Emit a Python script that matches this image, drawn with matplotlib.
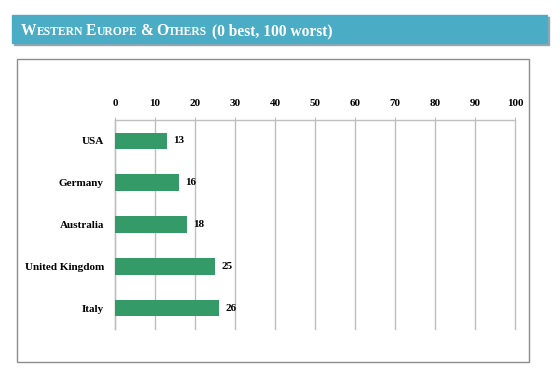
import matplotlib
matplotlib.use('Agg')
import matplotlib.pyplot as plt
from matplotlib.patches import Rectangle

countries = ['USA', 'Germany', 'Australia', 'United Kingdom', 'Italy']
scores = [13, 16, 18, 25, 26]
ticks = [0, 10, 20, 30, 40, 50, 60, 70, 80, 90, 100]

W, H = 560, 375
BANNER = '#4bacc6'
GREEN = '#349a68'
GRID = '#bfbfbf'
FONT = 'Liberation Serif'

plt.rcParams['font.family'] = FONT
plt.rcParams['font.weight'] = 'bold'

fig = plt.figure(figsize=(W / 100, H / 100), dpi=100)


def px(x, y):
    return x / W, 1 - y / H


# title banner with its shadow
fig.patches.append(Rectangle(px(14, 45), 535 / W, 28 / H, transform=fig.transFigure,
                             color='#9aa6ac', zorder=0))
fig.patches.append(Rectangle(px(12, 43), 535 / W, 28 / H, transform=fig.transFigure,
                             color=BANNER, zorder=1))
# chart frame
fig.patches.append(Rectangle(px(17, 362), 512 / W, 303 / H, transform=fig.transFigure,
                             fill=False, edgecolor='#8c8c8c', lw=1.0, zorder=1))

# small caps title built piece by piece
pieces = [('W', 11.2, 0), ('ESTERN', 8.4, 3), ('E', 11.2, 0), ('UROPE', 8.4, 3),
          ('&', 11.2, 3), ('O', 11.2, 0), ('THERS', 8.4, 5), ('(0 best, 100 worst)', 11.2, 0)]
renderer = fig.canvas.get_renderer()
x = 21
for s, size, gap in pieces:
    t = fig.text(x / W, 1 - 35 / H, s, fontsize=size, color='white', fontweight='bold',
                 va='baseline', ha='left', zorder=3)
    bb = t.get_window_extent(renderer)
    x += bb.width + gap

ax = fig.add_axes([115 / W, 1 - 329 / H, 400 / W, 209 / H])
ypos = range(len(countries))
ax.barh(ypos, scores, height=0.4, color=GREEN, zorder=3)
for y, v in zip(ypos, scores):
    ax.text(v + 1.5, y, str(v), va='center', ha='left', fontsize=8, fontweight='bold')

ax.set_xlim(0, 100)
ax.set_ylim(len(countries) - 0.5, -0.5)
ax.set_xticks(ticks)
ax.xaxis.tick_top()
ax.tick_params(axis='x', length=2, color=GRID, labelsize=8, pad=7)
ax.set_yticks(list(ypos))
ax.set_yticklabels(countries)
ax.tick_params(axis='y', length=0, labelsize=8, pad=8)
ax.grid(axis='x', color=GRID, lw=1, zorder=0)
for line in ax.get_xgridlines():
    line.set_clip_on(False)
for side in ['right', 'bottom']:
    ax.spines[side].set_visible(False)
for side in ['top', 'left']:
    ax.spines[side].set_color(GRID)
    ax.spines[side].set_linewidth(1)

fig.savefig('out.png', dpi=100)
